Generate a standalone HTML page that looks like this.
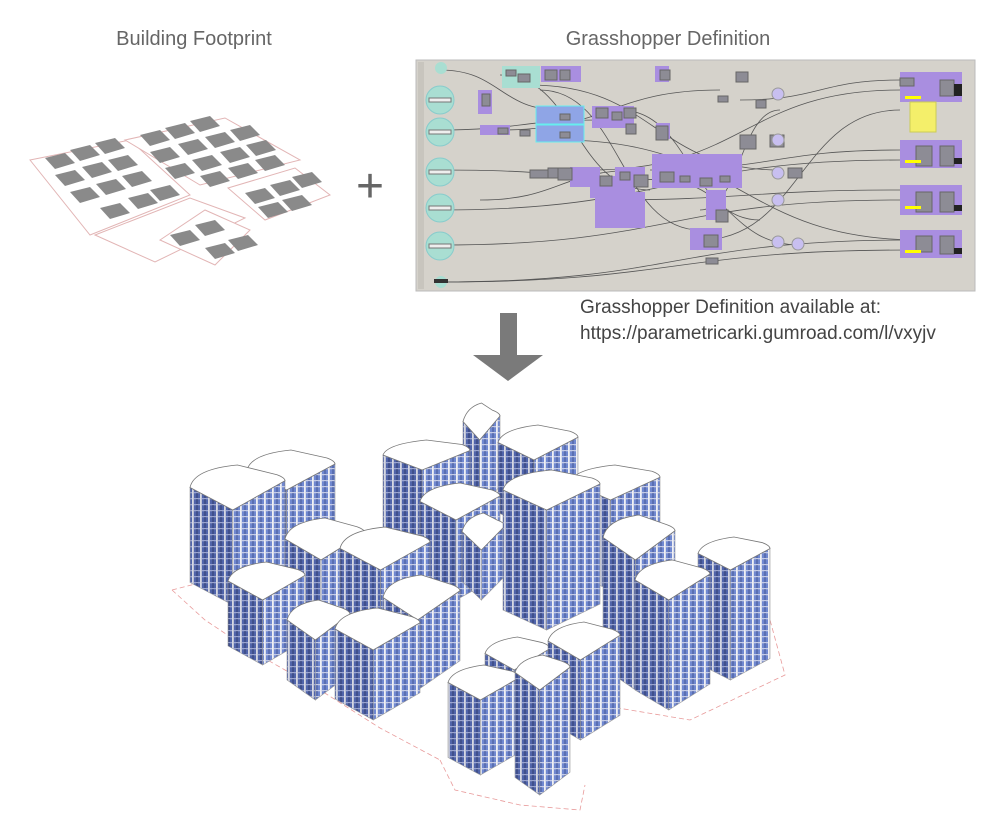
<!DOCTYPE html>
<html><head><meta charset="utf-8"><style>
html,body{margin:0;padding:0;background:#fff;width:1005px;height:834px;overflow:hidden}
svg{display:block}
</style></head><body>
<svg id="s" width="1005" height="834" viewBox="0 0 1005 834" xmlns="http://www.w3.org/2000/svg">
<defs>
<pattern id="fac" width="8" height="6" patternUnits="userSpaceOnUse">
<rect width="8" height="6" fill="#7088d0"/>
<rect x="0" y="0" width="1.8" height="6" fill="#f0f0f4"/>
<rect x="1.8" y="0" width="6.2" height="1.3" fill="#c4cbe6"/>
<rect x="4.6" y="1" width="0.8" height="5" fill="#3a4a86"/>
</pattern>
<pattern id="fac2" width="8" height="6" patternUnits="userSpaceOnUse">
<rect width="8" height="6" fill="#5064aa"/>
<rect x="0" y="0" width="1.8" height="6" fill="#d6d8e2"/>
<rect x="1.8" y="0" width="6.2" height="1.3" fill="#9aa4cf"/>
<rect x="4.6" y="1" width="0.8" height="5" fill="#26315f"/>
</pattern>
</defs>
<text x="194" y="45" font-family="Liberation Sans, sans-serif" font-size="20" fill="#666" text-anchor="middle">Building Footprint</text>
<text x="668" y="45" font-family="Liberation Sans, sans-serif" font-size="20" fill="#666" text-anchor="middle">Grasshopper Definition</text>
<g id="fp"></g>
<text x="370" y="202" font-family="Liberation Sans, sans-serif" font-size="48" fill="#666" text-anchor="middle">+</text>
<rect x="416" y="60" width="559" height="231" fill="#d5d2cb" stroke="#bbb"/>
<rect x="418" y="62" width="6" height="227" fill="#c8c5be"/>
<g id="gh"></g>
<text x="580" y="313" font-family="Liberation Sans, sans-serif" font-size="19" fill="#444">Grasshopper Definition available at:</text>
<text x="580" y="339" font-family="Liberation Sans, sans-serif" font-size="19" fill="#444">https://parametricarki.gumroad.com/l/vxyjv</text>
<polygon points="500,313 517,313 517,355 543,355 508,381 473,355 500,355" fill="#7a7a7a"/>
<g id="site" fill="none" stroke="#e89a9a" stroke-width="0.8" stroke-dasharray="5,3">
<path d="M172,590 L205,620 L250,650 L320,690 L380,728 L440,760"/>
<path d="M172,590 L230,575"/>
<path d="M440,760 L455,790 L520,805 L580,810 L585,785"/>
<path d="M600,705 L690,720 L785,675 L770,620"/>
</g>
<g id="bld"></g>
</svg>
<script>
var NS="http://www.w3.org/2000/svg";
function el(p,t,a){var e=document.createElementNS(NS,t);for(var k in a)e.setAttribute(k,a[k]);p.appendChild(e);return e;}
var fp=document.getElementById('fp');
var sites=[[[30,160],[130,140],[190,195],[90,235]],[[125,140],[225,118],[300,160],[200,185]],[[95,235],[190,198],[245,218],[155,262]],[[228,188],[295,168],[330,195],[265,220]],[[160,240],[205,210],[250,230],[215,265]]];
sites.forEach(function(s){el(fp,'polygon',{points:s.map(function(p){return p.join(',')}).join(' '),fill:'#fff',stroke:'#e2b5b5','stroke-width':1});});
var blocks=[[45,158],[70,150],[95,143],[55,175],[82,167],[108,160],[70,192],[96,184],[122,176],[100,208],[128,198],[150,190],[140,135],[165,128],[190,121],[150,152],[178,144],[205,137],[230,130],[165,168],[192,160],[220,152],[246,145],[200,176],[228,168],[255,160],[245,193],[270,185],[292,177],[258,207],[282,200],[170,235],[195,225],[205,248],[228,240]];
blocks.forEach(function(b){var x=b[0],y=b[1];el(fp,'polygon',{points:[x,y,x+20,y-5,x+30,y+5,x+10,y+11].join(' '),fill:'#8a8a8a'});});
var gh=document.getElementById('gh');
var r=function(x,y,w,h,f,s){return el(gh,'rect',{x:x,y:y,width:w,height:h,fill:f,stroke:s||'none','stroke-width':1});};
var wires=[[440,70,560,110],[440,130,600,120],[440,170,700,180],[440,210,900,160],[440,245,900,200],[440,282,910,240],[440,282,910,250],[500,130,720,90],[530,85,780,170],[590,170,900,90],[650,170,900,150],[700,210,780,110],[600,200,900,190],[560,140,920,240],[660,180,800,245],[700,240,900,110],[480,200,640,170],[740,100,900,80],[620,110,760,220],[500,75,650,190],[540,90,700,230]];
wires.forEach(function(w){var mx=(w[0]+w[2])/2;el(gh,'path',{d:'M'+w[0]+','+w[1]+' C'+mx+','+w[1]+' '+mx+','+w[3]+' '+w[2]+','+w[3],fill:'none',stroke:'#555','stroke-width':0.8});});
[[440,100],[440,132],[440,172],[440,208],[440,246]].forEach(function(c){el(gh,'circle',{cx:c[0],cy:c[1],r:14,fill:'#a9ded2',stroke:'#8cc'});r(c[0]-11,c[1]-2,22,4,'#eee','#777');});
el(gh,'circle',{cx:441,cy:68,r:6,fill:'#a9ded2'});el(gh,'circle',{cx:441,cy:282,r:6,fill:'#a9ded2'});
r(434,279,14,4,'#333');
r(502,66,38,22,'#a9ded2');
r(536,106,48,18,'#8fa5e6','#6ee');r(536,125,48,17,'#8fa5e6','#6ee');
var purp=[[541,66,40,16],[592,106,42,22],[590,176,45,22],[615,167,30,12],[595,192,50,36],[652,154,90,34],[706,190,20,30],[690,228,32,22],[480,125,30,10],[570,167,30,20],[900,72,62,30],[900,140,62,28],[900,185,62,30],[900,230,62,28],[478,90,14,24],[655,66,14,16],[656,123,14,16]];
purp.forEach(function(p){r(p[0],p[1],p[2],p[3],'#a98ee0');});
var nodes=[[506,70,10,6],[518,74,12,8],[545,70,12,10],[560,70,10,10],[596,108,12,10],[612,112,10,8],[624,108,12,10],[530,170,18,8],[548,168,12,10],[558,168,14,12],[600,176,12,10],[620,172,10,8],[634,175,14,12],[660,172,14,10],[700,178,12,8],[716,210,12,12],[736,72,12,10],[756,100,10,8],[718,96,10,6],[704,235,14,12],[706,258,12,6],[626,124,10,10],[656,126,12,14],[660,70,10,10],[740,135,16,14],[770,135,14,12],[788,168,14,10],[900,78,14,8],[940,80,14,16],[916,146,16,20],[940,146,14,20],[916,192,16,20],[940,192,14,20],[916,236,16,16],[940,236,14,18],[482,94,8,12],[520,130,10,6],[560,114,10,6],[560,132,10,6],[498,128,10,6],[680,176,10,6],[720,176,10,6]];
nodes.forEach(function(n){r(n[0],n[1],n[2],n[3],'#8d8c95','#666');});
[[778,94],[778,140],[778,173],[778,200],[778,242],[798,244]].forEach(function(c){el(gh,'circle',{cx:c[0],cy:c[1],r:6,fill:'#c8bff0',stroke:'#999'});});
r(910,102,26,30,'#f4ef6a','#cc5');
[[905,96],[905,160],[905,206],[905,250]].forEach(function(c){r(c[0],c[1],16,3,'#ff0');});
r(954,84,8,12,'#222');r(954,158,8,6,'#222');r(954,205,8,6,'#222');r(954,248,8,6,'#222');
var B=[[463,403,500,37,510],[498,425,578,35,530],[190,465,285,45,605],[247,450,335,40,570],[383,440,470,30,580],[570,465,660,35,590],[420,483,500,37,600],[462,513,505,37,600],[503,470,600,40,630],[285,518,365,42,650],[340,527,430,43,660],[698,537,770,33,680],[228,562,305,38,665],[383,575,460,45,690],[603,515,675,45,690],[287,600,350,40,700],[635,560,710,40,710],[335,608,420,42,720],[485,637,550,33,740],[548,622,620,38,740],[448,665,520,35,775],[515,655,570,35,795]];
B.sort(function(a,b){return a[4]-b[4]});
var g=document.getElementById('bld');
B.forEach(function(b){
 var x=b[0],ty=b[1],x2=b[2],th=b[3],by=b[4],w=x2-x;
 var dx=x+w*0.45,dy=ty+th,ax=x,ay=ty+th*0.5,cx=x2,cy=ty+th*0.35,bx=x+w*0.5,byy=ty;
 var H=by-dy;
 el(g,'polygon',{points:[ax,ay,dx,dy,dx,dy+H,ax,ay+H].join(' '),fill:'url(#fac2)',stroke:'#999','stroke-width':0.6});
 el(g,'polygon',{points:[dx,dy,cx,cy,cx,cy+H,dx,dy+H].join(' '),fill:'url(#fac)',stroke:'#999','stroke-width':0.6});
 el(g,'path',{d:'M'+ax+','+ay+' Q'+(ax+4)+','+(byy+4)+' '+(bx)+','+byy+' L'+(cx-8)+','+(cy-6)+' Q'+cx+','+(cy-3)+' '+cx+','+cy+' L'+dx+','+dy+' Z',fill:'#fff',stroke:'#777','stroke-width':0.8});
});
</script>
</body></html>
